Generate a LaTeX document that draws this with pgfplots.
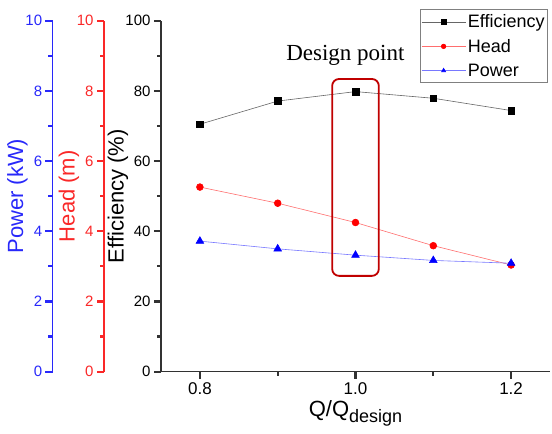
\documentclass[border=0pt]{standalone}
\usepackage{fontspec}
\setmainfont{Liberation Sans}
\newfontfamily\seriffont{Liberation Serif}
\usepackage{pgfplots}
\pgfplotsset{compat=1.18}
\definecolor{myblue}{RGB}{40,40,250}
\definecolor{myred}{RGB}{250,40,40}
\definecolor{lblue}{RGB}{120,120,255}
\definecolor{lred}{RGB}{255,110,110}
\definecolor{dred}{RGB}{192,0,0}
\definecolor{axgray}{RGB}{50,50,50}
\pgfplotstableread{
x eff head power
0.8 70.5 5.26 3.72
0.9 77.1 4.80 3.50
1.0 79.8 4.25 3.32
1.1 77.9 3.59 3.17
1.2 74.4 3.04 3.09
}\datatable
\pgfplotsset{
  base/.style={
    scale only axis, width=389pt, height=351pt,
    xmin=0.75, xmax=1.25, ymin=0, clip=false,
    xtick align=outside, ytick align=outside,
    tickwidth=7pt, subtickwidth=4pt,
    /pgf/number format/assume math mode=true,
    y tick label style={font=\fontsize{15}{15}\selectfont},
    x tick label style={font=\fontsize{17}{17}\selectfont},
    ylabel style={font=\fontsize{22}{22}\selectfont, anchor=center},
  },
  legend image code/.code={
      \draw[mark repeat=2,mark phase=2,#1, mark size=2.3pt] plot coordinates {(0pt,0pt) (22pt,0pt) (44pt,0pt)};},
  dataaxis/.style={base, hide axis, ymax=10},
}
\begin{document}
\begin{tikzpicture}
\useasboundingbox (0pt,0pt) rectangle (552pt,434pt);
% Power axis line
\begin{axis}[base, hide x axis, axis y line*=left, ymax=10,
  ytick={0,2,...,10}, minor ytick={1,3,...,9},
  axis line style={myblue, line width=1.6pt},
  major tick style={myblue, line width=2.2pt},
  minor tick style={myblue, line width=2.2pt},
  y tick label style={myblue},
  at={(52.7pt,62.3pt)}, anchor=south west,
  ylabel={Power (kW)}, ylabel style={myblue, at={(axis description cs:-0.0905,0.5)}}]
\pgfplotsinvokeforeach{0,2,4,6,8,10}{\draw[myblue, line width=2.2pt] (axis cs:0.75,#1) -- ++(-7.5pt,0pt);}
\pgfplotsinvokeforeach{1,3,5,7,9}{\draw[myblue, line width=2.2pt] (axis cs:0.75,#1) -- ++(-4.5pt,0pt);}
\end{axis}
% Head axis line
\begin{axis}[base, hide x axis, axis y line*=left, ymax=10,
  ytick={0,2,...,10}, minor ytick={1,3,...,9},
  axis line style={myred, line width=1.6pt},
  major tick style={myred, line width=2.2pt},
  minor tick style={myred, line width=2.2pt},
  y tick label style={myred},
  at={(104pt,62.3pt)}, anchor=south west,
  ylabel={Head (m)}, ylabel style={myred, at={(axis description cs:-0.09,0.5)}}]
\pgfplotsinvokeforeach{0,2,4,6,8,10}{\draw[myred, line width=2.2pt] (axis cs:0.75,#1) -- ++(-7.5pt,0pt);}
\pgfplotsinvokeforeach{1,3,5,7,9}{\draw[myred, line width=2.2pt] (axis cs:0.75,#1) -- ++(-4.5pt,0pt);}
\end{axis}
% Head data
\begin{axis}[dataaxis, at={(161pt,62.3pt)}, anchor=south west]
\addplot[lred, line width=0.6pt, mark=*, mark size=3.4pt, mark options={fill=red, draw=red}] table[x=x, y=head] {\datatable};
\end{axis}
% Power data
\begin{axis}[dataaxis, at={(161pt,62.3pt)}, anchor=south west]
\addplot[lblue, line width=0.6pt, mark=triangle*, mark size=4.4pt, mark options={fill=blue, draw=blue}] table[x=x, y=power] {\datatable};
\end{axis}
% Main efficiency axis
\begin{axis}[base, at={(161pt,62.3pt)}, anchor=south west,
  ymax=100, ytick={0,20,...,100}, minor ytick={10,30,...,90},
  xtick={0.8,1.0,1.2}, minor xtick={0.9,1.1},
  xticklabel style={/pgf/number format/.cd, fixed, fixed zerofill, precision=1},
  axis x line*=bottom, axis y line*=left,
  axis line style={axgray, line width=1.6pt},
  major tick style={axgray, line width=2.2pt},
  minor tick style={axgray, line width=2.2pt},
  ylabel={Efficiency (\%)}, ylabel style={at={(axis description cs:-0.1105,0.5)}},
  xlabel={Q/Q\raisebox{-6pt}{\fontsize{18}{18}\selectfont design}},
  xlabel style={font=\fontsize{22}{22}\selectfont, at={(axis description cs:0.5,-0.129)}, anchor=base},
  legend style={at={(axis description cs:0.995,1.033)}, anchor=north east,
    draw=gray, line width=0.9pt, font=\fontsize{18}{18}\selectfont,
    inner xsep=1pt, inner ysep=3pt, row sep=6pt},
  legend cell align=left,
]
\addplot[gray!80!black, line width=0.6pt, mark=square*, mark size=3.3pt, mark options={fill=black, draw=black}] table[x=x, y=eff] {\datatable};
\addlegendentry{Efficiency}
\addlegendimage{lred, line width=0.6pt, mark=*, mark options={fill=red, draw=red}}
\addlegendentry{Head}
\addlegendimage{lblue, line width=0.6pt, mark=triangle*, mark options={fill=blue, draw=blue}}
\addlegendentry{Power}
\pgfplotsinvokeforeach{0,20,40,60,80,100}{\draw[axgray, line width=2.2pt] (axis cs:0.75,#1) -- ++(-7.5pt,0pt);}
\pgfplotsinvokeforeach{10,30,50,70,90}{\draw[axgray, line width=2.2pt] (axis cs:0.75,#1) -- ++(-4.5pt,0pt);}
\pgfplotsinvokeforeach{0.8,1.0,1.2}{\draw[axgray, line width=2.2pt] (axis cs:#1,0) -- ++(0pt,-7.5pt);}
\pgfplotsinvokeforeach{0.9,1.1}{\draw[axgray, line width=2.2pt] (axis cs:#1,0) -- ++(0pt,-4.5pt);}
\draw[dred, line width=1.8pt, rounded corners=7pt] (axis cs:0.97,27.3) rectangle (axis cs:1.03,83.4);
\node[font=\seriffont\fontsize{23}{23}\selectfont, anchor=base] at (axis cs:0.987,88.8) {Design point};
\end{axis}
\end{tikzpicture}
\end{document}
